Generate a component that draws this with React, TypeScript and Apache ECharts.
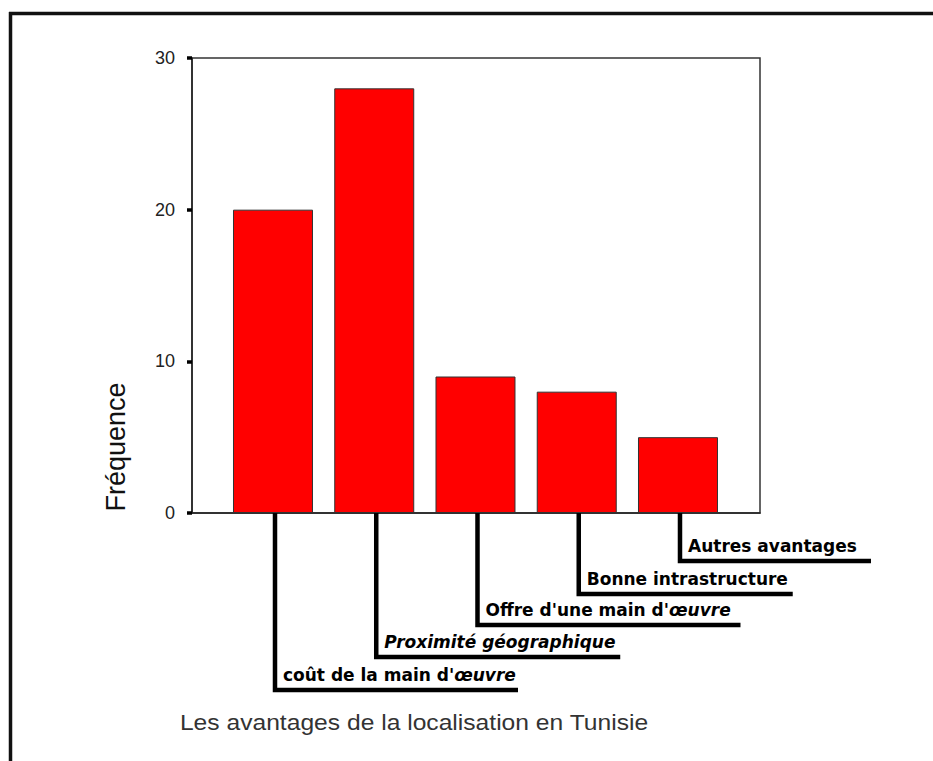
import React, { useEffect, useRef } from "react";
import * as echarts from "echarts";

// ---- Data ----
const categories = [
  "coût de la main d'œuvre",
  "Proximité géographique",
  "Offre d'une main d'œuvre",
  "Bonne intrastructure",
  "Autres avantages",
];
const frequencies = [20, 28, 9, 8, 5];
const italicCategories = [false, true, false, false, false];
const yAxisTitle = "Fréquence";
const xAxisTitle = "Les avantages de la localisation en Tunisie";

// ---- Layout (leader lines under the axis, in px) ----
const leaderDepths = [177, 144, 112, 81, 48];
const leaderLengths = [243, 244, 263, 214, 191];

const LABEL_FONT = "DejaVu Sans";
const LABEL_SIZE = 17;

function richText(s: string, italic: boolean): string {
  if (italic) return `{i|${s}}`;
  const parts = s.split("œuvre");
  if (parts.length === 1) return `{b|${s}}`;
  return parts.map((p) => (p ? `{b|${p}}` : "")).join("{i|œuvre}");
}

export default function App() {
  const ref = useRef<HTMLDivElement>(null);
  useEffect(() => {
    const chart = echarts.init(ref.current!, null, { renderer: "svg" });
    const rich = {
      b: { fontFamily: LABEL_FONT, fontWeight: "bold", fontSize: LABEL_SIZE, fill: "#000" },
      i: { fontFamily: LABEL_FONT, fontWeight: "bold", fontStyle: "italic", fontSize: LABEL_SIZE, fill: "#000" },
    };
    chart.setOption({
      animation: false,
      backgroundColor: "#fff",
      grid: {
        left: 192,
        top: 58,
        width: 568,
        height: 455,
        show: true,
        borderColor: "#333",
        borderWidth: 1.5,
        backgroundColor: "transparent",
      },
      xAxis: {
        type: "value",
        min: -0.8,
        max: 4.81,
        axisLine: { show: true, onZero: false, lineStyle: { color: "#222", width: 1.5 } },
        axisTick: { show: false },
        axisLabel: { show: false },
        splitLine: { show: false },
      },
      yAxis: {
        type: "value",
        min: 0,
        max: 30,
        interval: 10,
        axisLine: { show: true, onZero: false, lineStyle: { color: "#222", width: 1.5 } },
        axisTick: { show: true, length: 5, lineStyle: { color: "#000", width: 3.5 } },
        axisLabel: {
          fontFamily: "Liberation Sans",
          fontSize: 18,
          color: "#222",
          margin: 17,
        },
        splitLine: { show: false },
      },
      graphic: [
        { type: "line", shape: { x1: 9, y1: 13.5, x2: 933, y2: 13.5 }, style: { stroke: "#111", lineWidth: 3.5 } },
        { type: "line", shape: { x1: 10.5, y1: 12, x2: 10.5, y2: 761 }, style: { stroke: "#111", lineWidth: 3.5 } },
        {
          type: "text",
          x: 116,
          y: 447,
          rotation: Math.PI / 2,
          style: {
            text: yAxisTitle,
            fontFamily: "Liberation Sans",
            fontSize: 27,
            fill: "#111",
            align: "center",
            verticalAlign: "middle",
          },
        },
        {
          type: "text",
          x: 414,
          y: 722,
          scaleX: 1.12,
          style: {
            text: xAxisTitle,
            fontFamily: "Liberation Sans",
            fontSize: 22,
            fill: "#333",
            align: "center",
            verticalAlign: "middle",
          },
        },
      ],
      series: [
        {
          type: "bar",
          data: frequencies.map((v, i) => [i, v]),
          barWidth: 80,
          itemStyle: { color: "#ff0000", borderColor: "#333", borderWidth: 1 },
        },
        {
          type: "custom",
          clip: false,
          silent: true,
          data: categories.map((_, i) => [i, 0]),
          renderItem: (params: any, api: any) => {
            const i = api.value(0) as number;
            const p = api.coord([i, 0]);
            const x = p[0] + 2;
            const y0 = p[1];
            const d = leaderDepths[i];
            const L = leaderLengths[i];
            return {
              type: "group",
              children: [
                {
                  type: "polyline",
                  shape: { points: [[x, y0], [x, y0 + d], [x + L, y0 + d]] },
                  style: { stroke: "#000", lineWidth: 4.5, fill: null, lineJoin: "miter", lineCap: "butt" },
                },
                {
                  type: "text",
                  x: x + 8,
                  y: y0 + d - 15,
                  style: {
                    text: richText(categories[i], italicCategories[i]),
                    rich,
                    fontFamily: LABEL_FONT,
                    fontWeight: "bold",
                    fontSize: LABEL_SIZE,
                    fill: "#000",
                    align: "left",
                    verticalAlign: "middle",
                  },
                },
              ],
            };
          },
        },
      ],
    });
    return () => chart.dispose();
  }, []);
  return (
    <div
      ref={ref}
      style={{ position: "fixed", left: 0, top: 0, width: 933, height: 761, background: "#fff" }}
    />
  );
}
